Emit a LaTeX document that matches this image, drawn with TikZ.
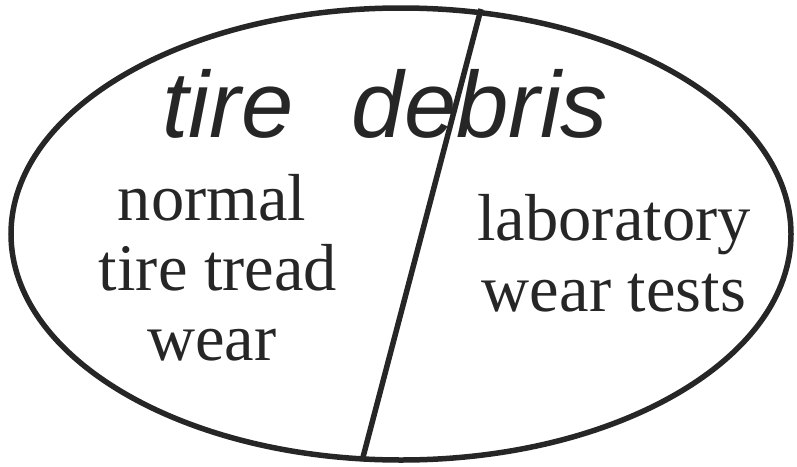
\documentclass[tikz,border=0pt]{standalone}
\usepackage{fontspec}
\setmainfont{Liberation Serif}
\newfontfamily\headfont{Liberation Sans}
\begin{document}
\begin{tikzpicture}[x=1pt,y=-1pt,
  stroke/.style={line width=5.5pt, black!85},
  head/.style={anchor=base, inner sep=0pt, font=\headfont\itshape\fontsize{94}{94}\selectfont, text=black!85},
  body/.style={anchor=base, inner sep=0pt, font=\fontsize{66.5}{66.5}\selectfont, text=black!85}]
\useasboundingbox (0,0) rectangle (797,466);
\draw[stroke] (401,234) ellipse [x radius=390, y radius=226];
\coordinate (top) at (481,9);
\coordinate (bot) at (362,461);
\draw[stroke] (top) -- (bot);
\node[head] (t1) at (228,137) {tire};
\node[head] (t2) at (480,137) {debris};
\node[body] (l1) at (212,220) {normal};
\node[body] (l2) at (218,290) {tire tread};
\node[body] (l3) at (212,360) {wear};
\node[body] (r1) at (614,240) {laboratory};
\node[body] (r2) at (614,311) {wear tests};
\end{tikzpicture}
\end{document}
